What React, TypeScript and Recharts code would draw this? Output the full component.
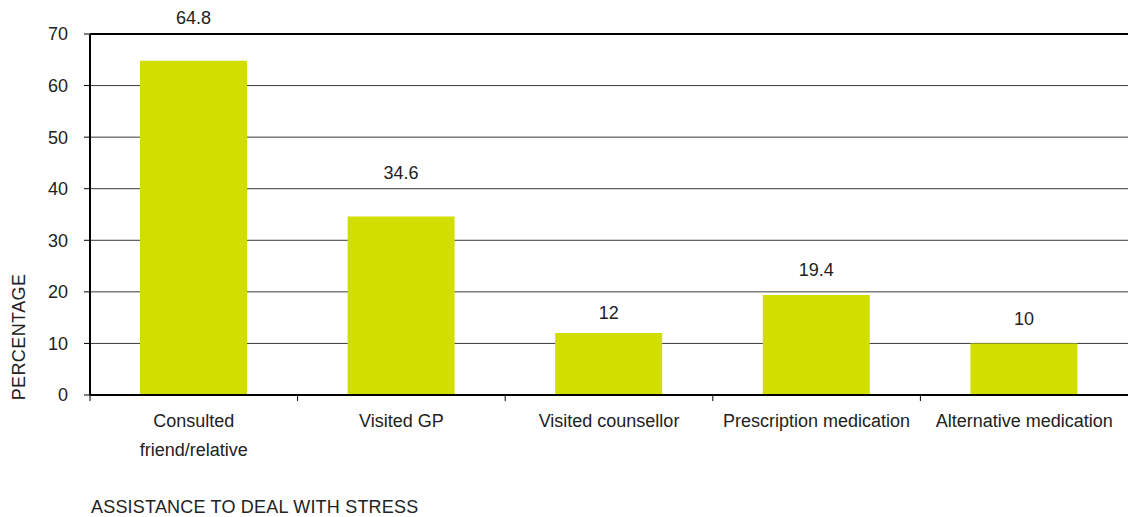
import { BarChart, Bar, XAxis, YAxis, CartesianGrid, ReferenceLine, LabelList } from 'recharts';

const categories = [
  'Consulted\nfriend/relative',
  'Visited GP',
  'Visited counsellor',
  'Prescription medication',
  'Alternative medication',
];
const percentages = [64.8, 34.6, 12, 19.4, 10];
const yTicks = [0, 10, 20, 30, 40, 50, 60, 70];
// how far each value label sits above its bar (as in the source layout)
const labelLift = [37, 38, 14, 19, 18];

const data = categories.map((name, i) => ({ name, value: percentages[i] }));

const W = 1128;
const H = 517;
const LEFT = 90;
const BAND = (W - LEFT) / categories.length;
const FONT = '"Liberation Sans", Arial, sans-serif';
const TEXT = '#222';
const FS = 18;

const XTick = (props: any) => {
  const { x, y, payload } = props;
  const lines = String(payload.value).split('\n');
  const edge = x - BAND / 2;
  return (
    <g>
      <line x1={edge} x2={edge} y1={y} y2={y + 6} stroke="#000" strokeWidth={1} />
      <text x={x} y={y + 32} textAnchor="middle" fontSize={FS} fill={TEXT} fontFamily={FONT}>
        {lines.map((l, i) => (
          <tspan key={i} x={x} dy={i === 0 ? 0 : 29}>
            {l}
          </tspan>
        ))}
      </text>
    </g>
  );
};

const ValueLabel = (props: any) => {
  const { x, y, width, index, value } = props;
  return (
    <text
      x={x + width / 2}
      y={y - labelLift[index]}
      textAnchor="middle"
      fontSize={FS}
      fill={TEXT}
      fontFamily={FONT}
    >
      {value}
    </text>
  );
};

export default function App() {
  return (
    <div style={{ position: 'absolute', left: 0, top: 0, width: W, height: H, background: '#fff' }}>
      <BarChart width={W} height={H} data={data} margin={{ top: 34, right: 0, left: 0, bottom: 0 }}>
        <CartesianGrid vertical={false} stroke="#3a3a3a" strokeWidth={1} />
        <XAxis
          dataKey="name"
          height={122}
          axisLine={{ stroke: '#000', strokeWidth: 2 }}
          tickLine={false}
          tickSize={0}
          tickMargin={0}
          interval={0}
          tick={<XTick />}
          label={{
            content: (p: any) => (
              <text
                x={p.viewBox.x + 1}
                y={p.viewBox.y + 118}
                fontSize={FS}
                letterSpacing={0.2}
                fill={TEXT}
                fontFamily={FONT}
              >
                ASSISTANCE TO DEAL WITH STRESS
              </text>
            ),
          }}
        />
        <YAxis
          width={LEFT}
          domain={[0, 70]}
          ticks={yTicks}
          interval={0}
          axisLine={{ stroke: '#000', strokeWidth: 2 }}
          tickLine={{ stroke: '#000', strokeWidth: 1 }}
          tickSize={6}
          tickMargin={16}
          tick={{ fontSize: FS, fill: TEXT, fontFamily: FONT }}
          label={{
            content: (p: any) => {
              const cx = 19;
              const cy = p.viewBox.y + p.viewBox.height - 58;
              return (
                <text
                  x={cx}
                  y={cy}
                  transform={`rotate(-90 ${cx} ${cy})`}
                  textAnchor="middle"
                  dominantBaseline="central"
                  fontSize={FS}
                  letterSpacing={0.4}
                  fill={TEXT}
                  fontFamily={FONT}
                >
                  PERCENTAGE
                </text>
              );
            },
          }}
        />
        <ReferenceLine y={70} stroke="#000" strokeWidth={2} />
        <Bar dataKey="value" fill="#d2de00" barSize={107} isAnimationActive={false}>
          <LabelList dataKey="value" content={<ValueLabel />} />
        </Bar>
      </BarChart>
    </div>
  );
}
